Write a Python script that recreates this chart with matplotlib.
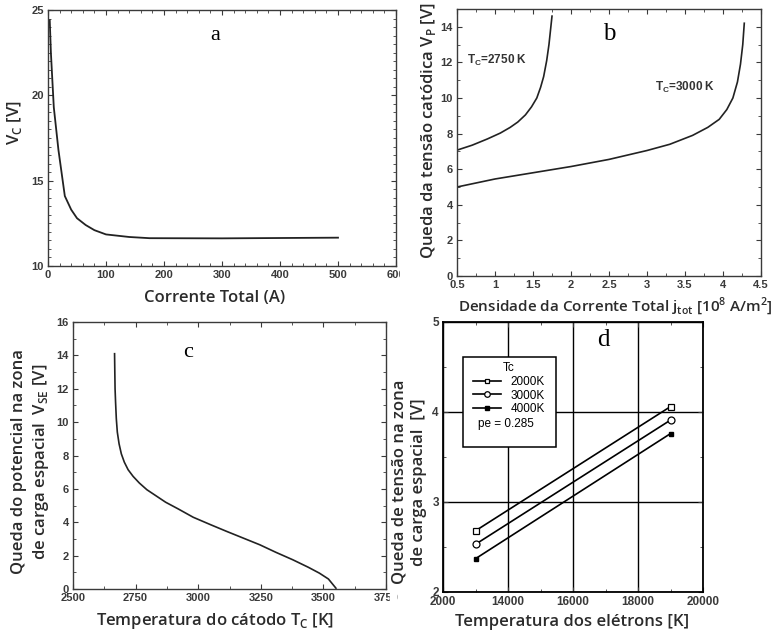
import matplotlib.pyplot as plt
import matplotlib.patches as patches
from matplotlib.lines import Line2D
from matplotlib.ticker import MultipleLocator, FixedLocator

# --- dados ---
# (a) tensão do cátodo x corrente total
corrente_a = [3, 5, 7, 10, 18, 29, 40, 50, 65, 80, 100, 140, 175, 300, 500]
vc_a = [24.4, 22.5, 21.2, 19.3, 16.8, 14.1, 13.3, 12.8, 12.4, 12.1, 11.85, 11.7, 11.63, 11.62, 11.66]

# (b) queda de tensão catódica x densidade de corrente
j_2750 = [0.5, 0.7, 0.9, 1.07, 1.2, 1.3, 1.4, 1.48, 1.55, 1.6, 1.64, 1.68, 1.71, 1.73, 1.75]
vp_2750 = [7.07, 7.35, 7.7, 8.03, 8.35, 8.65, 9.05, 9.5, 10.0, 10.6, 11.2, 12.1, 13.0, 13.8, 14.6]
j_3000 = [0.5, 1.0, 1.5, 2.0, 2.5, 3.0, 3.3, 3.6, 3.8, 3.95, 4.05, 4.13, 4.19, 4.23, 4.26, 4.28]
vp_3000 = [5.0, 5.45, 5.8, 6.15, 6.55, 7.05, 7.4, 7.9, 8.35, 8.8, 9.35, 10.0, 10.9, 11.9, 13.0, 14.2]

# (c) queda de potencial na zona de carga espacial x temperatura do cátodo
tc_c = [2666, 2667, 2668, 2670, 2673, 2677, 2684, 2693, 2705, 2720, 2740, 2765, 2795,
        2830, 2870, 2920, 2980, 3050, 3114, 3180, 3246, 3310, 3378, 3440, 3484, 3520, 3550]
vse_c = [14.1, 13.0, 12.0, 11.2, 10.2, 9.4, 8.7, 8.1, 7.6, 7.15, 6.75, 6.35, 5.95,
         5.6, 5.2, 4.8, 4.3, 3.85, 3.45, 3.05, 2.65, 2.2, 1.75, 1.3, 0.95, 0.6, 0.05]

# (d) queda de tensão x temperatura dos elétrons
te_d = [13000, 19000]
v_2000 = [2.68, 4.06]
v_3000 = [2.53, 3.91]
v_4000 = [2.37, 3.76]

W, H = 779, 634
fig = plt.figure(figsize=(W / 100, H / 100), dpi=100)
fig.patch.set_facecolor('white')

LAB = dict(family='Open Sans', fontsize=12, fontweight='semibold', color='#2b2b2b')
TICKC = '#3a3a3a'


def box(l, r, t, b):
    return [l / W, 1 - b / H, (r - l) / W, (b - t) / H]


def estilo(ax, fs=8):
    for s in ax.spines.values():
        s.set_color(TICKC)
        s.set_linewidth(1.0)
    ax.tick_params(which='both', direction='in', top=True, right=True,
                   colors=TICKC, labelsize=fs, pad=3)
    ax.tick_params(which='major', length=3.5)
    ax.tick_params(which='minor', length=2)


def fonte_ticks(ax):
    for lb in ax.get_xticklabels() + ax.get_yticklabels():
        lb.set_family('Liberation Sans')
        lb.set_fontweight('bold')


def ftext(x, y, s, **kw):
    fig.text(x / W, 1 - y / H, s, ha='center', va='center', **kw)


# --- (a) ---
ax = fig.add_axes(box(48, 396, 10, 266))
ax.plot(corrente_a, vc_a, color='#222222', lw=1.3)
ax.set_xlim(0, 600)
ax.set_ylim(10, 25)
ax.xaxis.set_major_locator(FixedLocator([0, 100, 200, 300, 400, 500, 600]))
ax.xaxis.set_minor_locator(MultipleLocator(20))
ax.yaxis.set_major_locator(FixedLocator([10, 15, 20, 25]))
ax.yaxis.set_minor_locator(MultipleLocator(0.5))
estilo(ax)
fonte_ticks(ax)
ax.text(288, 23.5, 'a', family='Liberation Serif', fontsize=16, ha='center', va='center')
ftext(15, 123, 'V$_\\mathregular{C}$ [V]', rotation=90, **LAB)
ftext(215, 298, 'Corrente Total (A)', **LAB)

# --- (b) ---
ax = fig.add_axes(box(457, 761, 9, 276))
ax.set_zorder(2)
ax.plot(j_2750, vp_2750, color='#222222', lw=1.2)
ax.plot(j_3000, vp_3000, color='#222222', lw=1.2)
ax.set_xlim(0.5, 4.5)
ax.set_ylim(0, 15)
ax.xaxis.set_major_locator(FixedLocator([0.5, 1, 1.5, 2, 2.5, 3, 3.5, 4, 4.5]))
ax.xaxis.set_minor_locator(MultipleLocator(0.25))
ax.yaxis.set_major_locator(FixedLocator([0, 2, 4, 6, 8, 10, 12, 14]))
ax.yaxis.set_minor_locator(MultipleLocator(1))
estilo(ax)
ax.set_xticklabels(['0.5', '1', '1.5', '2', '2.5', '3', '3.5', '4', '4.5'])
fonte_ticks(ax)
ax.text(0.63, 12.1, 'T$_\\mathregular{C}$=2750 K', family='Liberation Sans',
        fontweight='bold', fontsize=8.5, color='#333333', va='center')
ax.text(3.1, 10.6, 'T$_\\mathregular{C}$=3000 K', family='Liberation Sans',
        fontweight='bold', fontsize=8.5, color='#333333', va='center')
ax.text(2.5, 13.6, 'b', family='Liberation Serif', fontsize=18, ha='center', va='center')
ftext(428, 130, 'Queda da tensão catódica V$_\\mathregular{P}$ [V]', rotation=90, **LAB)
LABB = dict(LAB, fontsize=11)
ftext(615, 306, 'Densidade da Corrente Total j$_\\mathregular{tot}$ [10$^\\mathregular{8}$ A/m$^\\mathregular{2}$]', **LABB)

# --- (c) ---
ax = fig.add_axes(box(73, 386, 322, 589))
ax.plot(tc_c, vse_c, color='#222222', lw=1.2)
ax.set_xlim(2500, 3750)
ax.set_ylim(0, 16)
ax.xaxis.set_major_locator(FixedLocator([2500, 2750, 3000, 3250, 3500, 3750]))
ax.xaxis.set_minor_locator(MultipleLocator(125))
ax.yaxis.set_major_locator(FixedLocator([0, 2, 4, 6, 8, 10, 12, 14, 16]))
ax.yaxis.set_minor_locator(MultipleLocator(1))
estilo(ax)
fonte_ticks(ax)
ax.text(2960, 14.2, 'c', family='Liberation Serif', fontsize=16, ha='center', va='center')
ftext(31, 462, 'Queda do potencial na zona\nde carga espacial  V$_\\mathregular{SE}$ [V]',
      rotation=90, linespacing=1.3, **LAB)
ftext(215, 621, 'Temperatura do cátodo T$_\\mathregular{C}$ [K]', **LAB)

# --- (d) ---
ax = fig.add_axes(box(443, 703, 322, 592))
ax.set_zorder(2)
ax.plot(te_d, v_2000, color='black', lw=1.2, marker='s', ms=4, mfc='white', mew=0.9)
ax.plot(te_d, v_3000, color='black', lw=1.2, marker='o', ms=5, mfc='white', mew=0.9)
ax.plot(te_d, v_4000, color='black', lw=1.2, marker='s', ms=3.5, mfc='black')
ax.set_xlim(12000, 20000)
ax.set_ylim(2, 5)
ax.xaxis.set_major_locator(FixedLocator([12000, 14000, 16000, 18000, 20000]))
ax.xaxis.set_minor_locator(MultipleLocator(1000))
ax.yaxis.set_major_locator(FixedLocator([2, 3, 4, 5]))
ax.yaxis.set_minor_locator(MultipleLocator(0.5))
ax.grid(True, which='major', color='black', lw=1.0)
estilo(ax, fs=8.5)
for s in ax.spines.values():
    s.set_color('black')
    s.set_linewidth(1.3)
ax.set_xticklabels(['2000', '14000', '16000', '18000', '20000'])
fonte_ticks(ax)

# caixa da legenda
ax.add_patch(patches.Rectangle((0.077, 0.537), 0.358, 0.333, transform=ax.transAxes,
                               facecolor='white', edgecolor='black', lw=1.1, zorder=4))
hnd = [Line2D([], [], color='black', lw=1.2, marker='s', ms=3.5, mfc='white', mew=0.9),
       Line2D([], [], color='black', lw=1.2, marker='o', ms=4, mfc='white', mew=0.9),
       Line2D([], [], color='black', lw=1.2, marker='s', ms=3, mfc='black')]
leg = ax.legend(hnd, ['2000K', '3000K', '4000K'], title='Tc',
                loc='upper center', bbox_to_anchor=(0.254, 0.865),
                prop=dict(family='Liberation Sans', size=8.5),
                title_fontproperties=dict(family='Liberation Sans', size=8.5),
                frameon=False, handlelength=2.4, handletextpad=0.8,
                labelspacing=0.15, borderpad=0.3, borderaxespad=0)
leg.set_zorder(5)
ax.text(0.242, 0.622, 'pe = 0.285', transform=ax.transAxes, family='Liberation Sans',
        fontsize=8.5, ha='center', va='center', zorder=6)
ax.text(16950, 4.8, 'd', family='Liberation Serif', fontsize=18, ha='center', va='center')
ftext(409, 482, 'Queda de tensão na zona\nde carga espacial  [V]',
      rotation=90, linespacing=1.3, **LAB)
ftext(572, 622, 'Temperatura dos elétrons [K]', **LAB)

# rótulos cortados nas bordas dos painéis da esquerda
fig.add_artist(patches.Rectangle((400 / W, 1 - 292 / H), 14 / W, 24 / H,
                                 transform=fig.transFigure, color='white', zorder=1))
fig.add_artist(patches.Rectangle((390 / W, 1 - 612 / H), 6 / W, 22 / H,
                                 transform=fig.transFigure, color='white', zorder=1))

fig.savefig('out.png', dpi=100)
